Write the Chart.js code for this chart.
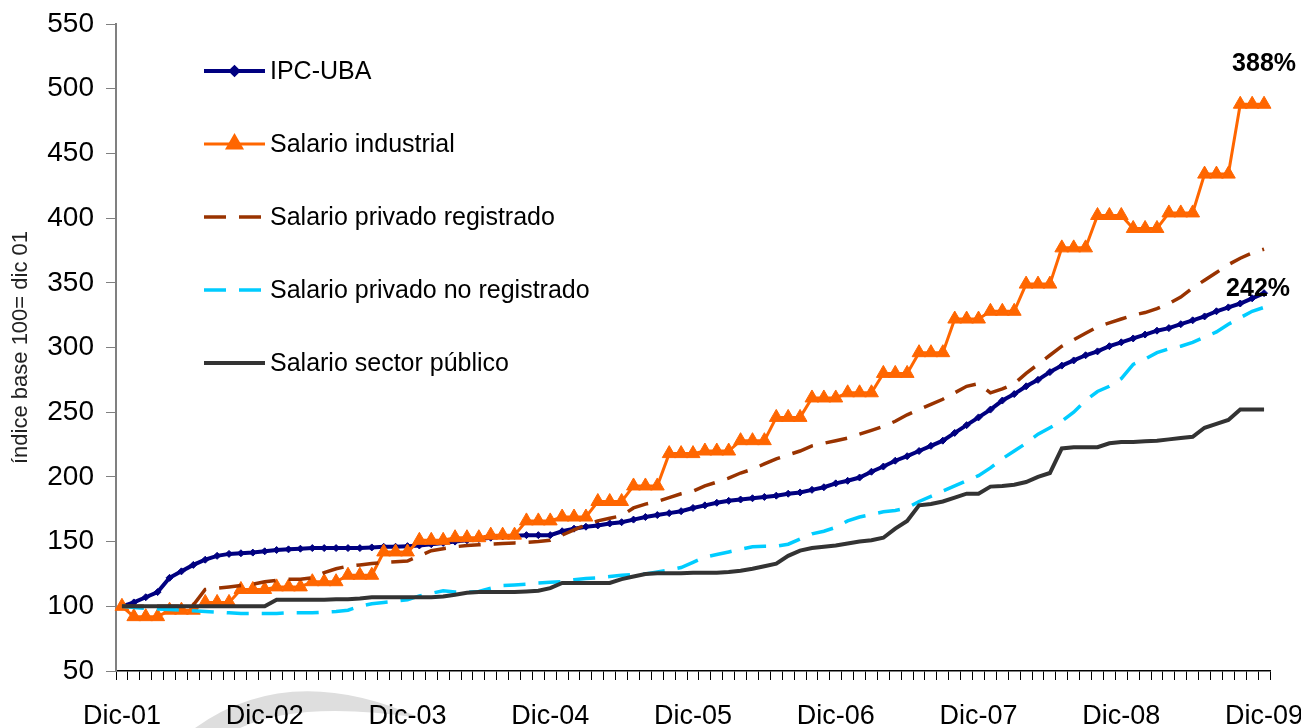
<!DOCTYPE html>
<html>
<head>
<meta charset="utf-8">
<script src="https://cdn.jsdelivr.net/npm/chart.js@4/dist/chart.umd.min.js"></script>
<style>
  body { margin: 0; background: #fff; }
</style>
</head>
<body>
<canvas id="chart" width="1301" height="728"></canvas>
<script>
// monthly, Dic-01 .. Dic-09 (base 100 = dic 01)
const months = ["Dic", "Ene", "Feb", "Mar", "Abr", "May", "Jun", "Jul", "Ago", "Sep", "Oct", "Nov"];
const years = ["01", "02", "03", "04", "05", "06", "07", "08", "09"];
const labels = [];
for (let i = 0; i < 97; i++) {
  const y = years[Math.ceil(i / 12)];
  labels.push(months[i % 12] + "-" + y);
}

const ipcUba = [100, 103, 107, 111, 122, 127, 132, 136, 139, 140.5, 141, 141.5, 142.5, 143.5, 144, 144.5, 145, 145, 145, 145, 145, 145.5, 146, 146, 146.5,
  147, 148, 149, 150, 151, 152, 153, 154, 154.5, 155, 155, 155,
  158, 160, 161.5, 162.5, 164, 165, 167, 169, 170.5, 172, 173.5,
  176, 178, 180, 181.5, 182.5, 183.5, 184.5, 185.5, 187, 188, 190, 192, 195, 197, 199.5, 204, 208, 212.5,
  216, 220, 224, 228, 234, 240, 246, 252, 259, 264, 270, 275, 281, 286, 290, 294, 297, 301, 304, 307, 310, 313, 315, 318, 321, 324, 328, 331, 334, 338, 342];

const salarioIndustrial = [100, 92, 92, 92, 97, 97, 97, 103, 103, 103, 113, 113, 113, 115, 115, 115, 119, 119, 119, 124, 124, 124,
  142, 142, 142, 151, 151, 151, 153, 153, 153, 155, 155, 155, 166, 166, 166, 169, 169, 169, 181, 181, 181, 193, 193, 193,
  218, 218, 218, 220, 220, 220, 228, 228, 228, 246, 246, 246, 261, 261, 261, 265, 265, 265, 280, 280, 280, 296, 296, 296,
  322, 322, 322, 328, 328, 328, 349, 349, 349, 377, 377, 377, 402, 402, 402, 392, 392, 392, 404, 404, 404, 434, 434, 434, 488, 488, 488];

const privadoRegistrado = [100, 100, 100, 100, 100, 100, 101, 113, 114, 115,
  116, 117, 119, 120, 121, 121, 122, 126, 129, 131,
  132, 133, 134, 134.5, 135, 139, 143, 144.5, 146, 147,
  147.5, 148, 148.5, 149, 149.5, 150, 151, 155, 159, 163,
  166, 168, 170, 176, 179, 181, 184, 187, 189, 193,
  196, 199, 203, 206, 210, 214, 217, 220, 224, 226,
  228, 230, 233, 236, 239, 243, 248, 252, 256, 260,
  265, 270, 272, 265, 268, 272, 280, 287, 294, 301,
  306, 311, 316, 319, 322, 325, 327, 330, 334, 339,
  346, 352, 358, 364, 369, 373, 376];

const privadoNoRegistrado = [100, 99, 98.5, 98, 97.5, 97, 96.5, 96, 95.5, 95,
  94.5, 94.5, 94.5, 94.5, 95, 95, 95, 95.5, 96, 97,
  100, 102, 103, 104, 105, 108, 110, 112, 111, 111,
  111.5, 114, 116, 116.5, 117, 118, 118.5, 119, 120.5, 121.5,
  122, 123, 124, 124.5, 125, 126.5, 128, 130, 134, 138,
  140, 142, 144, 146, 146.5, 146.5, 148, 152, 156, 158,
  161, 166, 169, 171, 173, 174, 176, 181, 185, 189,
  193, 197, 201, 207, 214, 220, 226, 233, 238, 243,
  250, 259, 266, 270, 276, 287, 291, 296, 299, 301,
  304, 308, 312, 318, 323, 328, 331];

const sectorPublico = [100, 100, 100, 100, 100, 100, 100, 100, 100, 100,
  100, 100, 100, 105, 105, 105, 105, 105, 105.5, 105.5,
  106, 107, 107, 107, 107, 107, 107, 107.5, 109, 110.5,
  111, 111, 111, 111, 111.5, 112, 114, 118, 118, 118,
  118, 118, 121, 123, 125, 125.5, 125.5, 125.5, 126, 126,
  126, 126.5, 127.5, 129, 131, 133, 139, 143, 145, 146,
  147, 148.5, 150, 151, 153, 160, 166, 178, 179, 181,
  184, 187, 187, 192.5, 193, 194, 196, 200, 203, 222,
  223, 223, 223, 226, 227, 227, 227.5, 228, 229, 230,
  231, 238, 241, 244, 252, 252, 252];

const FONT = "'Liberation Sans', Arial, sans-serif";

// faint logo swoosh behind the bottom axis labels
const watermarkPlugin = {
  id: "watermark",
  beforeDraw(chart) {
    const ctx = chart.ctx;
    ctx.save();
    ctx.fillStyle = "#dedede";
    ctx.beginPath();
    ctx.moveTo(195, 728);
    ctx.quadraticCurveTo(290, 660, 420, 718);
    ctx.quadraticCurveTo(300, 700, 240, 728);
    ctx.closePath();
    ctx.fill();
    ctx.restore();
  }
};

const legendPlugin = {
  id: "sideLegend",
  afterDraw(chart) {
    const ctx = chart.ctx;
    const x0 = 204, x1 = 265, top = 71, step = 73;
    ctx.save();
    chart.data.datasets.forEach((ds, k) => {
      const y = top + k * step;
      ctx.strokeStyle = ds.borderColor;
      ctx.lineWidth = ds.borderWidth;
      ctx.setLineDash(ds.borderDash || []);
      ctx.beginPath();
      ctx.moveTo(x0, y);
      ctx.lineTo(x1, y);
      ctx.stroke();
      ctx.setLineDash([]);
      if (ds.pointRadius > 0) {
        ctx.fillStyle = ds.borderColor;
        Chart.helpers.drawPoint(ctx, {
          pointStyle: ds.pointStyle,
          radius: ds.pointRadius,
          borderWidth: 1
        }, (x0 + x1) / 2, y);
      }
      ctx.fillStyle = "#000";
      ctx.font = "25px " + FONT;
      ctx.textBaseline = "middle";
      ctx.textAlign = "left";
      ctx.fillText(ds.label, 270, y + 1);
    });
    ctx.restore();
  }
};

const pctPlugin = {
  id: "pctLabels",
  afterDraw(chart) {
    const ctx = chart.ctx;
    const xs = chart.scales.x, ys = chart.scales.y;
    const last = labels.length - 1;
    ctx.save();
    ctx.font = "bold 25px " + FONT;
    ctx.fillStyle = "#000";
    ctx.textAlign = "center";
    ctx.textBaseline = "middle";
    ctx.fillText("388%", xs.getPixelForValue(last), ys.getPixelForValue(salarioIndustrial[last]) - 40);
    ctx.fillText("242%", xs.getPixelForValue(last) - 6, ys.getPixelForValue(ipcUba[last]) - 4);
    ctx.restore();
  }
};

new Chart(document.getElementById("chart"), {
  type: "line",
  data: {
    labels,
    datasets: [
      {
        label: "IPC-UBA",
        data: ipcUba,
        borderColor: "#000080",
        backgroundColor: "#000080",
        borderWidth: 4,
        pointStyle: "rectRot",
        pointRadius: 3.5,
        pointBorderWidth: 1,
        order: 5
      },
      {
        label: "Salario industrial",
        data: salarioIndustrial,
        borderColor: "#FF6600",
        backgroundColor: "#FF6600",
        borderWidth: 3,
        pointStyle: "triangle",
        pointRadius: 8,
        pointBorderWidth: 1,
        order: 4
      },
      {
        label: "Salario privado registrado",
        data: privadoRegistrado,
        borderColor: "#993300",
        borderWidth: 3.5,
        borderDash: [22, 13],
        pointRadius: 0,
        order: 3
      },
      {
        label: "Salario privado no registrado",
        data: privadoNoRegistrado,
        borderColor: "#00CCFF",
        borderWidth: 3.5,
        borderDash: [22, 13],
        pointRadius: 0,
        order: 2
      },
      {
        label: "Salario sector público",
        data: sectorPublico,
        borderColor: "#333333",
        borderWidth: 4,
        pointRadius: 0,
        order: 1
      }
    ]
  },
  options: {
    responsive: false,
    animation: false,
    events: [],
    layout: { padding: { left: 8, right: 31, top: 24, bottom: 0 } },
    plugins: {
      legend: { display: false },
      tooltip: { enabled: false }
    },
    elements: { line: { tension: 0 } },
    scales: {
      x: {
        offset: true,
        grid: { drawOnChartArea: false, drawTicks: true, tickLength: 9, color: "#000", offset: true },
        border: { color: "#000", width: 1.5 },
        ticks: {
          autoSkip: false,
          maxRotation: 0,
          padding: 20,
          color: "#000",
          font: { family: FONT, size: 27 },
          callback: (v, i) => (i % 12 === 0 ? labels[i] : "")
        },
        afterFit: (s) => {
          s.height = 57;
          s.paddingLeft = 0;
          s.paddingRight = 0;
        }
      },
      y: {
        min: 50,
        max: 550,
        grid: { drawOnChartArea: false, drawTicks: true, tickLength: 10, color: "#808080" },
        border: { color: "#808080", width: 2 },
        ticks: {
          stepSize: 50,
          padding: 12,
          color: "#000",
          font: { family: FONT, size: 28 }
        },
        title: {
          display: true,
          text: "índice base 100= dic 01",
          color: "#222",
          font: { family: FONT, size: 22 },
          padding: { top: 0, bottom: 0 }
        },
        afterFit: (s) => {
          s.width = 108;
          s.paddingTop = 0;
          s.paddingBottom = 0;
        }
      }
    }
  },
  plugins: [watermarkPlugin, legendPlugin, pctPlugin]
});
</script>
</body>
</html>
